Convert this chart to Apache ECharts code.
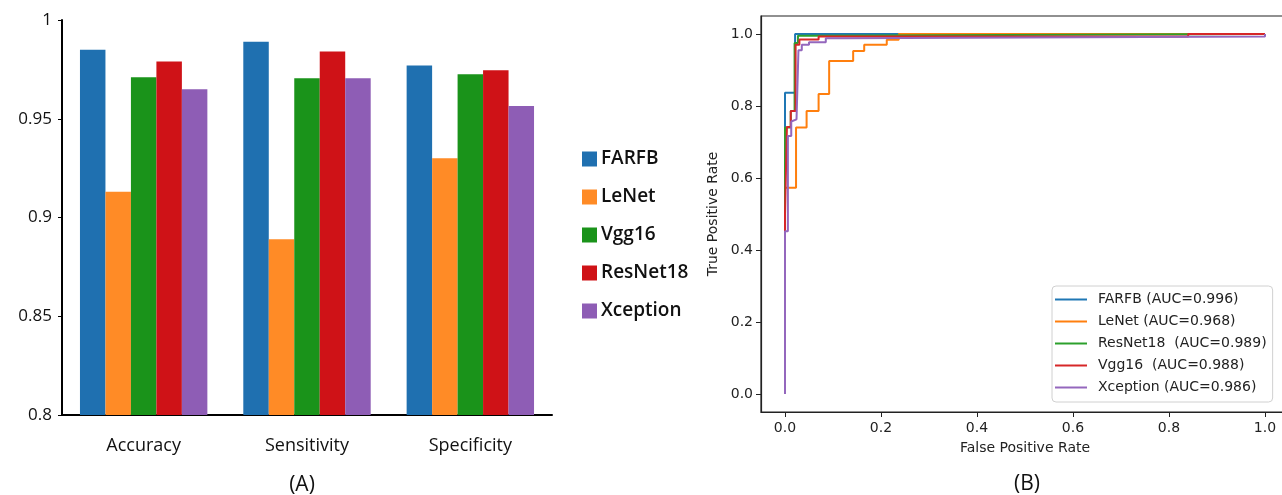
<!DOCTYPE html>
<html>
<head>
<meta charset="utf-8">
<script src="https://cdn.jsdelivr.net/npm/echarts@6/dist/echarts.min.js"></script>
<style>
  html, body { margin: 0; padding: 0; background: #fff; overflow: hidden; }
  #chart { width: 1292px; height: 495px; }
</style>
</head>
<body>
<div id="chart"></div>
<script>
// (A) bar chart data
var categories = ['Accuracy', 'Sensitivity', 'Specificity'];
var barNames = ['FARFB', 'LeNet', 'Vgg16', 'ResNet18', 'Xception'];
var farfbBar = [0.985, 0.989, 0.977];
var lenetBar = [0.913, 0.889, 0.930];
var vgg16Bar = [0.971, 0.9705, 0.9725];
var resnet18Bar = [0.979, 0.984, 0.9745];
var xceptionBar = [0.965, 0.9705, 0.9565];
var barColors = ['#1f70b0', '#ff8b26', '#1a931a', '#cf1217', '#8e5db5'];

// (B) ROC curves, [fpr, tpr]
var rocNames = ['FARFB (AUC=0.996)', 'LeNet (AUC=0.968)', 'ResNet18  (AUC=0.989)', 'Vgg16  (AUC=0.988)', 'Xception (AUC=0.986)'];
var rocFarfb = [[0, 0], [0, 0.837], [0.021, 0.837], [0.021, 1], [1, 1]];
var rocLenet = [[0, 0], [0, 0.573], [0.023, 0.573], [0.023, 0.74], [0.045, 0.74], [0.045, 0.786], [0.07, 0.786],
  [0.07, 0.833], [0.092, 0.833], [0.092, 0.925], [0.142, 0.925], [0.142, 0.953], [0.165, 0.953], [0.165, 0.97],
  [0.212, 0.97], [0.212, 0.984], [0.237, 0.984], [0.237, 1], [1, 1]];
var rocResnet18 = [[0, 0], [0, 0.74], [0.012, 0.74], [0.012, 0.786], [0.02, 0.786], [0.02, 0.975], [0.027, 0.975],
  [0.027, 0.995], [0.05, 0.995], [0.05, 1], [1, 1]];
var rocVgg16 = [[0, 0], [0, 0.5], [0.004, 0.5], [0.004, 0.742], [0.012, 0.742], [0.012, 0.786], [0.022, 0.786],
  [0.022, 0.97], [0.03, 0.97], [0.03, 0.985], [0.07, 0.985], [0.07, 0.993], [0.84, 0.993], [0.84, 1], [1, 1]];
var rocXception = [[0, 0], [0, 0.452], [0.006, 0.452], [0.006, 0.717], [0.013, 0.717], [0.013, 0.757], [0.024, 0.763],
  [0.028, 0.763], [0.028, 0.955], [0.035, 0.955], [0.035, 0.97], [0.05, 0.97], [0.05, 0.977], [0.085, 0.977],
  [0.085, 0.988], [0.124, 0.988], [0.124, 0.993], [1, 0.993], [1, 1]];
var rocColors = ['#1f77b4', '#ff7f0e', '#2ca02c', '#d62728', '#9467bd'];
var rocTicks = [0, 0.2, 0.4, 0.6, 0.8, 1.0];

var barData = [farfbBar, lenetBar, vgg16Bar, resnet18Bar, xceptionBar];
var rocData = [rocFarfb, rocLenet, rocResnet18, rocVgg16, rocXception];

var chart = echarts.init(document.getElementById('chart'));

var series = barNames.map(function (name, i) {
  return {
    name: name,
    type: 'bar',
    xAxisIndex: 0,
    yAxisIndex: 0,
    data: barData[i],
    barGap: 0,
    barCategoryGap: '22%',
    itemStyle: { color: barColors[i] }
  };
});

rocNames.forEach(function (name, i) {
  series.push({
    name: name,
    type: 'line',
    xAxisIndex: 1,
    yAxisIndex: 1,
    data: rocData[i],
    showSymbol: false,
    symbol: 'none',
    lineStyle: { width: 2, color: rocColors[i] },
    itemStyle: { color: rocColors[i] }
  });
});

var mplFont = 'DejaVu Sans';
var leftFont = 'Open Sans';

chart.setOption({
  animation: false,
  grid: [
    { left: 62, top: 20, width: 490, height: 395 },
    { left: 761, top: 16, width: 528, height: 396, show: true, borderColor: '#222', borderWidth: 1.2 }
  ],
  xAxis: [
    {
      type: 'category',
      gridIndex: 0,
      data: categories,
      axisLine: { lineStyle: { color: '#000', width: 2 } },
      axisTick: { show: false },
      axisLabel: { color: '#111', fontSize: 18, fontFamily: leftFont, margin: 22 }
    },
    {
      type: 'value',
      gridIndex: 1,
      min: -0.05,
      max: 1.05,
      name: 'False Positive Rate',
      nameLocation: 'middle',
      nameGap: 29,
      nameTextStyle: { color: '#222', fontSize: 14, fontFamily: mplFont },
      splitLine: { show: false },
      axisLine: { show: true, onZero: false, lineStyle: { color: '#222', width: 1.2 } },
      axisTick: { show: true, length: 5, customValues: rocTicks, lineStyle: { color: '#222' } },
      axisLabel: {
        color: '#222', fontSize: 14, fontFamily: mplFont, margin: 9,
        customValues: rocTicks,
        formatter: function (v) { return v.toFixed(1); }
      }
    }
  ],
  yAxis: [
    {
      type: 'value',
      gridIndex: 0,
      min: 0.8,
      max: 1,
      interval: 0.05,
      splitLine: { show: false },
      axisLine: { show: true, lineStyle: { color: '#000', width: 2 } },
      axisTick: { show: true, length: 4, lineStyle: { color: '#000' } },
      axisLabel: { color: '#111', fontSize: 17, fontFamily: leftFont, margin: 10 }
    },
    {
      type: 'value',
      gridIndex: 1,
      min: -0.05,
      max: 1.05,
      name: 'True Positive Rate',
      nameLocation: 'middle',
      nameGap: 41,
      nameTextStyle: { color: '#222', fontSize: 14, fontFamily: mplFont },
      splitLine: { show: false },
      axisLine: { show: true, onZero: false, lineStyle: { color: '#222', width: 1.2 } },
      axisTick: { show: true, length: 5, customValues: rocTicks, lineStyle: { color: '#222' } },
      axisLabel: {
        color: '#222', fontSize: 14, fontFamily: mplFont, margin: 8,
        customValues: rocTicks,
        formatter: function (v) { return v.toFixed(1); }
      }
    }
  ],
  legend: [
    {
      data: barNames,
      orient: 'vertical',
      left: 582,
      top: 149,
      padding: 0,
      icon: 'rect',
      itemWidth: 15,
      itemHeight: 15,
      itemGap: 18,
      textStyle: { color: '#111', fontSize: 19, fontWeight: 600, fontFamily: leftFont, lineHeight: 20, padding: [0, 0, 0, -1] }
    },
    {
      data: rocNames,
      orient: 'vertical',
      left: 1052,
      top: 286,
      padding: [5, 6, 6, 3],
      icon: 'rect',
      itemWidth: 32,
      itemHeight: 2,
      itemGap: 5,
      backgroundColor: '#fff',
      borderColor: '#d0d0d0',
      borderWidth: 1,
      borderRadius: 4,
      textStyle: { color: '#222', fontSize: 14, fontFamily: mplFont, lineHeight: 17, padding: [0, 0, 0, 6] }
    }
  ],
  graphic: [
    { type: 'text', x: 302, y: 485, style: { text: '(A)', fontSize: 21, fontFamily: leftFont, fill: '#111', textAlign: 'center', textVerticalAlign: 'middle' } },
    { type: 'text', x: 1027, y: 484, style: { text: '(B)', fontSize: 21, fontFamily: leftFont, fill: '#111', textAlign: 'center', textVerticalAlign: 'middle' } }
  ],
  series: series
});

window.addEventListener('resize', function () {
  chart.resize();
});
</script>
</body>
</html>
